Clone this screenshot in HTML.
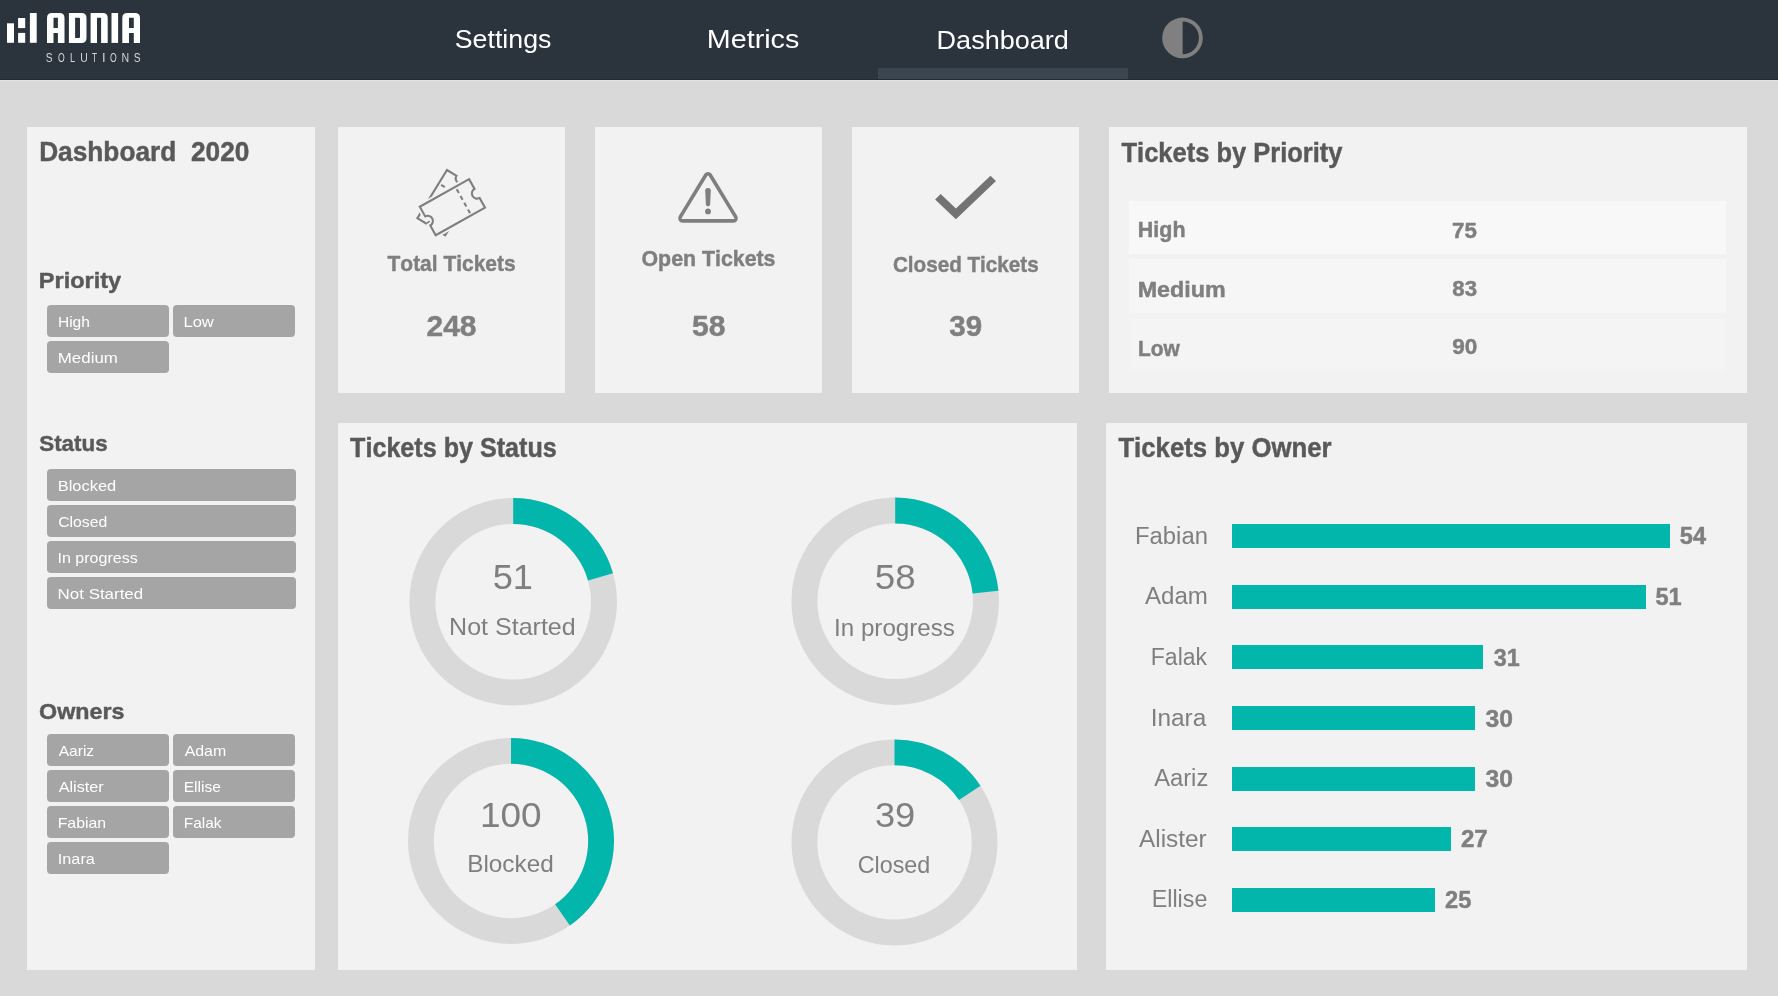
<!DOCTYPE html>
<html><head><meta charset="utf-8"><title>Dashboard 2020</title>
<style>
html,body{margin:0;padding:0;}
body{width:1778px;height:996px;overflow:hidden;background:#d9d9d9;position:relative;font-family:"Liberation Sans",sans-serif;}
.hdr{position:absolute;left:0;top:0;width:1778px;height:79px;background:#2b333c;}
.hdr2{position:absolute;left:0;top:79px;width:1778px;height:1px;background:#222a33;}
.hdr3{position:absolute;left:0;top:80px;width:1778px;height:1px;background:#e3e3e3;}
.tab{position:absolute;left:878px;top:68px;width:250px;height:11px;background:#3a4550;}
.panel{position:absolute;background:#f2f2f2;}
.btn{position:absolute;background:#a5a5a5;border-radius:4px;height:32px;}
.prow{position:absolute;left:1129px;width:597px;}
.bar{position:absolute;left:1232px;height:24px;background:#02b6ab;}
svg.ov{position:absolute;left:0;top:0;will-change:transform;}
svg text{font-family:"Liberation Sans",sans-serif;font-kerning:none;}
</style></head><body>
<div class="hdr"></div><div class="hdr2"></div><div class="hdr3"></div><div class="tab"></div>

<div class="panel" style="left:27px;top:127px;width:288px;height:843px"></div>
<div class="panel" style="left:338px;top:127px;width:227px;height:266px"></div>
<div class="panel" style="left:595px;top:127px;width:227px;height:266px"></div>
<div class="panel" style="left:852px;top:127px;width:227px;height:266px"></div>
<div class="panel" style="left:1109px;top:127px;width:638px;height:266px"></div>
<div class="panel" style="left:338px;top:423px;width:739px;height:547px"></div>
<div class="panel" style="left:1106px;top:423px;width:641px;height:547px"></div>
<div class="btn" style="left:47px;top:305px;width:122px"></div>
<div class="btn" style="left:173px;top:305px;width:122px"></div>
<div class="btn" style="left:47px;top:341px;width:122px"></div>
<div class="btn" style="left:47px;top:469px;width:249px"></div>
<div class="btn" style="left:47px;top:505px;width:249px"></div>
<div class="btn" style="left:47px;top:541px;width:249px"></div>
<div class="btn" style="left:47px;top:577px;width:249px"></div>
<div class="btn" style="left:47px;top:734px;width:122px"></div>
<div class="btn" style="left:173px;top:734px;width:122px"></div>
<div class="btn" style="left:47px;top:770px;width:122px"></div>
<div class="btn" style="left:173px;top:770px;width:122px"></div>
<div class="btn" style="left:47px;top:806px;width:122px"></div>
<div class="btn" style="left:173px;top:806px;width:122px"></div>
<div class="btn" style="left:47px;top:842px;width:122px"></div>
<div class="prow" style="top:201px;height:53px;background:#f8f8f8"></div>
<div class="prow" style="top:259px;height:54px;background:#f6f6f6"></div>
<div class="prow" style="top:318px;height:54px;background:#f4f4f4"></div>
<div class="bar" style="top:524.00px;width:438.00px"></div>
<div class="bar" style="top:584.67px;width:413.67px"></div>
<div class="bar" style="top:645.34px;width:251.44px"></div>
<div class="bar" style="top:706.01px;width:243.33px"></div>
<div class="bar" style="top:766.68px;width:243.33px"></div>
<div class="bar" style="top:827.35px;width:219.00px"></div>
<div class="bar" style="top:888.02px;width:202.78px"></div>
<svg class="ov" width="1778" height="996" viewBox="0 0 1778 996">
<circle cx="513.20" cy="601.80" r="90.80" fill="none" stroke="#d9d9d9" stroke-width="26.00"/><path d="M513.20 498.00 A103.80 103.80 0 0 1 613.00 573.25 L588.00 580.40 A77.80 77.80 0 0 0 513.20 524.00 Z" fill="#02b6ab"/>
<circle cx="895.20" cy="601.30" r="90.80" fill="none" stroke="#d9d9d9" stroke-width="26.00"/><path d="M895.20 497.50 A103.80 103.80 0 0 1 998.47 590.80 L972.60 593.43 A77.80 77.80 0 0 0 895.20 523.50 Z" fill="#02b6ab"/>
<circle cx="511.00" cy="841.00" r="90.10" fill="none" stroke="#d9d9d9" stroke-width="25.80"/><path d="M511.00 738.00 A103.00 103.00 0 0 1 569.84 925.54 L555.10 904.36 A77.20 77.20 0 0 0 511.00 763.80 Z" fill="#02b6ab"/>
<circle cx="894.50" cy="842.40" r="90.10" fill="none" stroke="#d9d9d9" stroke-width="25.80"/><path d="M894.50 739.40 A103.00 103.00 0 0 1 980.50 785.72 L958.96 799.92 A77.20 77.20 0 0 0 894.50 765.20 Z" fill="#02b6ab"/>
<text x="454.79" y="48.36" font-size="26.47" font-weight="normal" fill="#ffffff" textLength="96.58" lengthAdjust="spacingAndGlyphs">Settings</text>
<text x="706.85" y="48.36" font-size="26.47" font-weight="normal" fill="#ffffff" textLength="92.49" lengthAdjust="spacingAndGlyphs">Metrics</text>
<text x="936.58" y="48.53" font-size="26.47" font-weight="normal" fill="#ffffff" textLength="132.26" lengthAdjust="spacingAndGlyphs">Dashboard</text>
<text x="39.14" y="161.40" font-size="27.04" font-weight="bold" fill="#595959" stroke="#595959" stroke-width="0.45" textLength="210.23" lengthAdjust="spacingAndGlyphs">Dashboard&#160;&#160;2020</text>
<text x="38.83" y="288.12" font-size="22.59" font-weight="bold" fill="#595959" stroke="#595959" stroke-width="0.45" textLength="82.30" lengthAdjust="spacingAndGlyphs">Priority</text>
<text x="39.26" y="451.18" font-size="22.59" font-weight="bold" fill="#595959" stroke="#595959" stroke-width="0.45" textLength="68.36" lengthAdjust="spacingAndGlyphs">Status</text>
<text x="39.14" y="719.08" font-size="22.59" font-weight="bold" fill="#595959" stroke="#595959" stroke-width="0.45" textLength="85.41" lengthAdjust="spacingAndGlyphs">Owners</text>
<text x="57.92" y="326.79" font-size="15.38" font-weight="normal" fill="#ffffff" textLength="31.99" lengthAdjust="spacingAndGlyphs">High</text>
<text x="183.44" y="326.79" font-size="15.38" font-weight="normal" fill="#ffffff" textLength="30.42" lengthAdjust="spacingAndGlyphs">Low</text>
<text x="57.81" y="362.79" font-size="15.38" font-weight="normal" fill="#ffffff" textLength="60.10" lengthAdjust="spacingAndGlyphs">Medium</text>
<text x="57.65" y="490.79" font-size="15.38" font-weight="normal" fill="#ffffff" textLength="58.61" lengthAdjust="spacingAndGlyphs">Blocked</text>
<text x="58.20" y="526.79" font-size="15.38" font-weight="normal" fill="#ffffff" textLength="49.12" lengthAdjust="spacingAndGlyphs">Closed</text>
<text x="57.52" y="562.79" font-size="15.38" font-weight="normal" fill="#ffffff" textLength="80.16" lengthAdjust="spacingAndGlyphs">In progress</text>
<text x="57.61" y="598.79" font-size="15.38" font-weight="normal" fill="#ffffff" textLength="85.58" lengthAdjust="spacingAndGlyphs">Not Started</text>
<text x="58.67" y="755.79" font-size="15.38" font-weight="normal" fill="#ffffff" textLength="35.51" lengthAdjust="spacingAndGlyphs">Aariz</text>
<text x="184.67" y="755.79" font-size="15.38" font-weight="normal" fill="#ffffff" textLength="41.58" lengthAdjust="spacingAndGlyphs">Adam</text>
<text x="58.67" y="791.79" font-size="15.38" font-weight="normal" fill="#ffffff" textLength="45.10" lengthAdjust="spacingAndGlyphs">Alister</text>
<text x="183.72" y="791.79" font-size="15.38" font-weight="normal" fill="#ffffff" textLength="37.17" lengthAdjust="spacingAndGlyphs">Ellise</text>
<text x="57.70" y="827.79" font-size="15.38" font-weight="normal" fill="#ffffff" textLength="48.43" lengthAdjust="spacingAndGlyphs">Fabian</text>
<text x="183.73" y="827.79" font-size="15.38" font-weight="normal" fill="#ffffff" textLength="37.74" lengthAdjust="spacingAndGlyphs">Falak</text>
<text x="57.80" y="863.79" font-size="15.38" font-weight="normal" fill="#ffffff" textLength="37.10" lengthAdjust="spacingAndGlyphs">Inara</text>
<text x="387.56" y="270.67" font-size="22.43" font-weight="bold" fill="#7f7f7f" stroke="#7f7f7f" stroke-width="0.45" textLength="127.99" lengthAdjust="spacingAndGlyphs">Total Tickets</text>
<text x="426.46" y="336.23" font-size="28.70" font-weight="bold" fill="#7f7f7f" stroke="#7f7f7f" stroke-width="0.45" textLength="50.06" lengthAdjust="spacingAndGlyphs">248</text>
<text x="641.53" y="266.42" font-size="22.43" font-weight="bold" fill="#7f7f7f" stroke="#7f7f7f" stroke-width="0.45" textLength="133.95" lengthAdjust="spacingAndGlyphs">Open Tickets</text>
<text x="692.07" y="335.93" font-size="28.70" font-weight="bold" fill="#7f7f7f" stroke="#7f7f7f" stroke-width="0.45" textLength="33.45" lengthAdjust="spacingAndGlyphs">58</text>
<text x="892.95" y="272.27" font-size="22.43" font-weight="bold" fill="#7f7f7f" stroke="#7f7f7f" stroke-width="0.45" textLength="145.69" lengthAdjust="spacingAndGlyphs">Closed Tickets</text>
<text x="949.32" y="336.16" font-size="28.70" font-weight="bold" fill="#7f7f7f" stroke="#7f7f7f" stroke-width="0.45" textLength="32.88" lengthAdjust="spacingAndGlyphs">39</text>
<text x="1121.51" y="161.93" font-size="27.42" font-weight="bold" fill="#595959" stroke="#595959" stroke-width="0.45" textLength="221.02" lengthAdjust="spacingAndGlyphs">Tickets by Priority</text>
<text x="1137.86" y="237.15" font-size="21.95" font-weight="bold" fill="#7f7f7f" stroke="#7f7f7f" stroke-width="0.45" textLength="47.67" lengthAdjust="spacingAndGlyphs">High</text>
<text x="1137.74" y="296.55" font-size="21.95" font-weight="bold" fill="#7f7f7f" stroke="#7f7f7f" stroke-width="0.45" textLength="87.90" lengthAdjust="spacingAndGlyphs">Medium</text>
<text x="1137.90" y="355.50" font-size="21.95" font-weight="bold" fill="#7f7f7f" stroke="#7f7f7f" stroke-width="0.45" textLength="41.76" lengthAdjust="spacingAndGlyphs">Low</text>
<text x="1452.14" y="237.74" font-size="21.94" font-weight="bold" fill="#7f7f7f" stroke="#7f7f7f" stroke-width="0.45" textLength="24.78" lengthAdjust="spacingAndGlyphs">75</text>
<text x="1452.39" y="295.59" font-size="21.94" font-weight="bold" fill="#7f7f7f" stroke="#7f7f7f" stroke-width="0.45" textLength="24.71" lengthAdjust="spacingAndGlyphs">83</text>
<text x="1452.32" y="353.90" font-size="21.94" font-weight="bold" fill="#7f7f7f" stroke="#7f7f7f" stroke-width="0.45" textLength="25.11" lengthAdjust="spacingAndGlyphs">90</text>
<text x="350.12" y="457.43" font-size="27.42" font-weight="bold" fill="#595959" stroke="#595959" stroke-width="0.45" textLength="206.61" lengthAdjust="spacingAndGlyphs">Tickets by Status</text>
<text x="492.65" y="589.12" font-size="35.01" font-weight="normal" fill="#7f7f7f" textLength="40.32" lengthAdjust="spacingAndGlyphs">51</text>
<text x="449.05" y="635.37" font-size="23.60" font-weight="normal" fill="#7f7f7f" textLength="126.67" lengthAdjust="spacingAndGlyphs">Not Started</text>
<text x="874.83" y="589.30" font-size="35.01" font-weight="normal" fill="#7f7f7f" textLength="40.87" lengthAdjust="spacingAndGlyphs">58</text>
<text x="834.07" y="635.57" font-size="23.60" font-weight="normal" fill="#7f7f7f" textLength="120.90" lengthAdjust="spacingAndGlyphs">In progress</text>
<text x="479.99" y="826.75" font-size="35.01" font-weight="normal" fill="#7f7f7f" textLength="61.66" lengthAdjust="spacingAndGlyphs">100</text>
<text x="467.20" y="872.22" font-size="23.60" font-weight="normal" fill="#7f7f7f" textLength="86.56" lengthAdjust="spacingAndGlyphs">Blocked</text>
<text x="874.92" y="827.25" font-size="35.01" font-weight="normal" fill="#7f7f7f" textLength="40.30" lengthAdjust="spacingAndGlyphs">39</text>
<text x="857.72" y="873.12" font-size="23.60" font-weight="normal" fill="#7f7f7f" textLength="72.59" lengthAdjust="spacingAndGlyphs">Closed</text>
<text x="1118.41" y="457.43" font-size="27.42" font-weight="bold" fill="#595959" stroke="#595959" stroke-width="0.45" textLength="213.08" lengthAdjust="spacingAndGlyphs">Tickets by Owner</text>
<text x="1135.04" y="543.71" font-size="24.15" font-weight="normal" fill="#7f7f7f" textLength="72.90" lengthAdjust="spacingAndGlyphs">Fabian</text>
<text x="1144.95" y="603.66" font-size="24.15" font-weight="normal" fill="#7f7f7f" textLength="63.04" lengthAdjust="spacingAndGlyphs">Adam</text>
<text x="1150.81" y="664.51" font-size="24.15" font-weight="normal" fill="#7f7f7f" textLength="56.25" lengthAdjust="spacingAndGlyphs">Falak</text>
<text x="1150.65" y="725.76" font-size="24.15" font-weight="normal" fill="#7f7f7f" textLength="55.65" lengthAdjust="spacingAndGlyphs">Inara</text>
<text x="1154.15" y="786.11" font-size="24.15" font-weight="normal" fill="#7f7f7f" textLength="54.13" lengthAdjust="spacingAndGlyphs">Aariz</text>
<text x="1139.05" y="846.76" font-size="24.15" font-weight="normal" fill="#7f7f7f" textLength="67.65" lengthAdjust="spacingAndGlyphs">Alister</text>
<text x="1151.79" y="907.11" font-size="24.15" font-weight="normal" fill="#7f7f7f" textLength="55.54" lengthAdjust="spacingAndGlyphs">Ellise</text>
<text x="1679.77" y="544.29" font-size="23.27" font-weight="bold" fill="#7f7f7f" stroke="#7f7f7f" stroke-width="0.45" textLength="26.25" lengthAdjust="spacingAndGlyphs">54</text>
<text x="1655.48" y="605.44" font-size="23.27" font-weight="bold" fill="#7f7f7f" stroke="#7f7f7f" stroke-width="0.45" textLength="26.18" lengthAdjust="spacingAndGlyphs">51</text>
<text x="1493.66" y="665.59" font-size="23.27" font-weight="bold" fill="#7f7f7f" stroke="#7f7f7f" stroke-width="0.45" textLength="25.99" lengthAdjust="spacingAndGlyphs">31</text>
<text x="1485.63" y="726.64" font-size="23.27" font-weight="bold" fill="#7f7f7f" stroke="#7f7f7f" stroke-width="0.45" textLength="27.48" lengthAdjust="spacingAndGlyphs">30</text>
<text x="1485.63" y="786.94" font-size="23.27" font-weight="bold" fill="#7f7f7f" stroke="#7f7f7f" stroke-width="0.45" textLength="27.48" lengthAdjust="spacingAndGlyphs">30</text>
<text x="1460.96" y="847.17" font-size="23.27" font-weight="bold" fill="#7f7f7f" stroke="#7f7f7f" stroke-width="0.45" textLength="26.79" lengthAdjust="spacingAndGlyphs">27</text>
<text x="1445.08" y="908.36" font-size="23.27" font-weight="bold" fill="#7f7f7f" stroke="#7f7f7f" stroke-width="0.45" textLength="26.28" lengthAdjust="spacingAndGlyphs">25</text>
<rect x="7.00" y="23.30" width="7.00" height="19.50" fill="#ffffff"/>
<rect x="18.10" y="18.00" width="7.10" height="10.10" fill="#ffffff"/>
<rect x="18.10" y="32.90" width="7.10" height="9.90" fill="#ffffff"/>
<rect x="29.90" y="13.00" width="6.80" height="29.80" fill="#ffffff"/>
<path d="M47.00 42.90 L47.00 18.00 Q47.00 13.00 52.00 13.00 L59.50 13.00 Q64.50 13.00 64.50 18.00 L64.50 42.90 L57.90 42.90 L57.90 33.10 L53.50 33.10 L53.50 42.90 Z M53.50 17.7 L57.90 17.7 L57.90 27.9 L53.50 27.9 Z" fill="#ffffff" fill-rule="evenodd"/>
<path d="M122.30 42.90 L122.30 18.00 Q122.30 13.00 127.30 13.00 L135.00 13.00 Q140.00 13.00 140.00 18.00 L140.00 42.90 L133.80 42.90 L133.80 33.10 L129.00 33.10 L129.00 42.90 Z M129.00 17.7 L133.80 17.7 L133.80 27.9 L129.00 27.9 Z" fill="#ffffff" fill-rule="evenodd"/>
<path d="M68.90 13.00 L81.50 13.00 Q86.50 13.00 86.50 18.00 L86.50 37.90 Q86.50 42.90 81.50 42.90 L68.90 42.90 Z M75.1 17.8 L79.0 17.8 Q80.0 17.8 80.0 18.8 L80.0 37.1 Q80.0 38.1 79.0 38.1 L75.1 38.1 Z" fill="#ffffff" fill-rule="evenodd"/>
<path d="M90.60 42.90 L90.60 13.00 L102.70 13.00 Q107.70 13.00 107.70 18.00 L107.70 42.90 L101.1 42.90 L101.1 17.8 L97.0 17.8 L97.0 42.90 Z" fill="#ffffff"/>
<rect x="111.5" y="13.0" width="6.6" height="29.9" fill="#ffffff"/>
<text x="45.73" y="62.49" font-size="13.20" font-weight="normal" fill="#d6d6d6" textLength="6.84" lengthAdjust="spacingAndGlyphs">S</text>
<text x="57.89" y="62.49" font-size="13.20" font-weight="normal" fill="#d6d6d6" textLength="6.72" lengthAdjust="spacingAndGlyphs">O</text>
<text x="69.94" y="62.49" font-size="13.20" font-weight="normal" fill="#d6d6d6" textLength="5.17" lengthAdjust="spacingAndGlyphs">L</text>
<text x="80.30" y="62.49" font-size="13.20" font-weight="normal" fill="#d6d6d6" textLength="7.50" lengthAdjust="spacingAndGlyphs">U</text>
<text x="92.11" y="62.49" font-size="13.20" font-weight="normal" fill="#d6d6d6" textLength="5.08" lengthAdjust="spacingAndGlyphs">T</text>
<text x="102.01" y="62.49" font-size="13.20" font-weight="normal" fill="#d6d6d6" textLength="3.57" lengthAdjust="spacingAndGlyphs">I</text>
<text x="109.89" y="62.49" font-size="13.20" font-weight="normal" fill="#d6d6d6" textLength="6.72" lengthAdjust="spacingAndGlyphs">O</text>
<text x="121.53" y="62.49" font-size="13.20" font-weight="normal" fill="#d6d6d6" textLength="7.63" lengthAdjust="spacingAndGlyphs">N</text>
<text x="133.73" y="62.49" font-size="13.20" font-weight="normal" fill="#d6d6d6" textLength="6.84" lengthAdjust="spacingAndGlyphs">S</text>
<circle cx="1182.5" cy="37.9" r="20.3" fill="#808080"/>
<path d="M1182.6 21.6 A16.3 16.3 0 0 1 1182.6 54.2 Z" fill="#2b333c"/>
<g transform="translate(446.10 202.60) rotate(-58.40)"><path d="M-28.25 -16.30 L28.25 -16.30 L28.25 -5.20 A5.20 5.20 0 0 0 28.25 5.20 L28.25 16.30 L-28.25 16.30 L-28.25 5.20 A5.20 5.20 0 0 0 -28.25 -5.20 Z" fill="#f2f2f2" stroke="#f2f2f2" stroke-width="6" stroke-linejoin="miter"/><path d="M-28.25 -16.30 L28.25 -16.30 L28.25 -5.20 A5.20 5.20 0 0 0 28.25 5.20 L28.25 16.30 L-28.25 16.30 L-28.25 5.20 A5.20 5.20 0 0 0 -28.25 -5.20 Z" fill="#f2f2f2" stroke="#7f7f7f" stroke-width="2.1" stroke-linejoin="miter"/><line x1="12.5" y1="-13.5" x2="12.5" y2="16" stroke="#7f7f7f" stroke-width="2.1" stroke-dasharray="4.3 3.4"/></g>
<g transform="translate(452.40 207.20) rotate(-29.20)"><path d="M-28.25 -16.30 L28.25 -16.30 L28.25 -5.20 A5.20 5.20 0 0 0 28.25 5.20 L28.25 16.30 L-28.25 16.30 L-28.25 5.20 A5.20 5.20 0 0 0 -28.25 -5.20 Z" fill="#f2f2f2" stroke="#f2f2f2" stroke-width="6" stroke-linejoin="miter"/><path d="M-28.25 -16.30 L28.25 -16.30 L28.25 -5.20 A5.20 5.20 0 0 0 28.25 5.20 L28.25 16.30 L-28.25 16.30 L-28.25 5.20 A5.20 5.20 0 0 0 -28.25 -5.20 Z" fill="#f2f2f2" stroke="#7f7f7f" stroke-width="2.1" stroke-linejoin="miter"/><line x1="12.5" y1="-13.5" x2="12.5" y2="16" stroke="#7f7f7f" stroke-width="2.1" stroke-dasharray="4.3 3.4"/></g>
<path d="M710.22 175.01 L735.69 216.90 A2.60 2.60 0 0 1 733.47 220.85 L682.53 220.85 A2.60 2.60 0 0 1 680.31 216.90 L705.78 175.01 A2.60 2.60 0 0 1 710.22 175.01 Z" fill="none" stroke="#7f7f7f" stroke-width="3.6"/>
<path d="M705.2 190.8 Q705.2 188.0 708.0 188.0 Q710.8 188.0 710.8 190.8 L710.1 204.6 Q710.0 206.4 708.0 206.4 Q706.0 206.4 705.9 204.6 Z" fill="#7f7f7f"/>
<circle cx="708" cy="211.4" r="2.9" fill="#7f7f7f"/>
<polygon points="935.1,199.4 940.7,193.9 955.9,208.5 990.5,175.7 996.0,180.9 955.9,219.2" fill="#737373"/>
</svg>
</body></html>
